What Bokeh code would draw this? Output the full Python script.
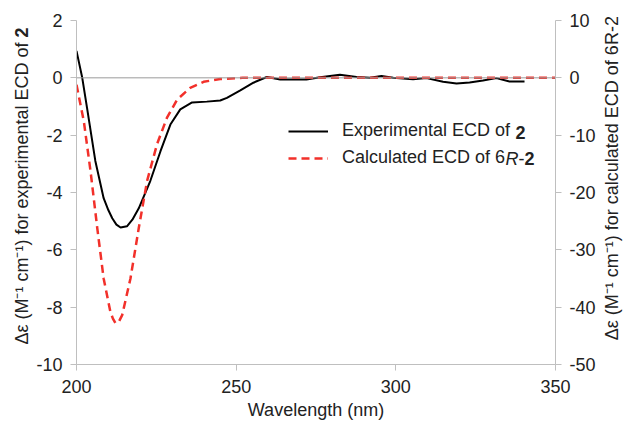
import math
from bokeh.plotting import figure
from bokeh.models import Range1d, LinearAxis, FixedTicker, Span, Legend, LegendItem, Label
from bokeh.embed import file_html
from bokeh.resources import INLINE

# Experimental ECD (left axis)
exp_wl = [200, 201.8, 203.3, 205.9, 208.5, 210.0, 211.2, 212.5, 213.8, 215.8, 217.5,
          219.5, 223.1, 226.3, 229.4, 232.5, 236.2, 240.8, 245, 247.1, 251.3, 255.4,
          259.6, 263.8, 272, 276.3, 282.5, 287.7, 291.9, 295.5, 299.2, 305.4, 309.6,
          314.8, 319, 323.1, 327.3, 331.5, 335.6, 340.3]
exp_de = [0.94, 0.0, -1.05, -2.9, -4.2, -4.62, -4.9, -5.12, -5.22, -5.18, -4.95,
          -4.55, -3.6, -2.56, -1.63, -1.1, -0.86, -0.83, -0.79, -0.7, -0.44, -0.17,
          0.03, -0.06, -0.06, 0.02, 0.11, 0.03, 0.0, 0.06, 0.0, -0.05, -0.01,
          -0.14, -0.2, -0.16, -0.09, -0.01, -0.13, -0.13]

# Calculated ECD (right axis)
calc_wl = [200, 202.3, 204.4, 206.5, 208.5, 210.6, 211.4, 212.2, 213.2, 214.3, 216.9,
           219.5, 222.1, 225.2, 228.3, 231.5, 235.6, 239.8, 245, 252, 300, 350]
calc_de = [-1.2, -7.6, -16.3, -26.2, -35, -40.8, -42.0, -42.8, -42.6, -41.4, -35,
           -26.2, -18, -11.6, -7, -3.8, -1.75, -0.7, -0.2, 0, 0, 0]

x_ticks = [200, 250, 300, 350]
left_ticks = [2, 0, -2, -4, -6, -8, -10]
right_ticks = [10, 0, -10, -20, -30, -40, -50]

x_title = "Wavelength (nm)"
left_title = [("Δε (M⁻¹ cm⁻¹) for experimental ECD of ", "normal"), ("2", "bold")]
right_title = "Δε (M⁻¹ cm⁻¹) for calculated ECD of 6R-2"
legend_exp = [("Experimental ECD of ", "normal"), ("2", "bold")]
legend_calc = [("Calculated ECD of 6", "normal"), ("R", "italic"), ("-", "normal"), ("2", "bold")]

FONT = "Liberation Sans"
FS = 18
TXT = "#222222"
AX = "#bfbfbf"

# frame geometry (px) and helpers to place annotations
FL, FT, FW, FH = 76, 20, 479, 344
X0, X1, Y0, Y1 = 200, 350, -10, 2
def dx(px): return X0 + (px - FL) / FW * (X1 - X0)
def dy(py): return Y1 - (py - FT) / FH * (Y1 - Y0)
# Arial/Liberation Sans advance widths (em) of text pieces that precede a styled part
W = {"Experimental ECD of ": 9.614, "Calculated ECD of 6": 9.059, "R": 0.722, "-": 0.333}

p = figure(width=623, height=425, output_backend="svg", toolbar_location=None,
           x_range=Range1d(X0, X1), y_range=Range1d(Y0, Y1),
           min_border_left=FL, min_border_right=623 - FL - FW, min_border_top=FT,
           min_border_bottom=425 - FT - FH)
p.extra_y_ranges = {"calc": Range1d(-50, 10)}
p.outline_line_color = None
p.xgrid.visible = False
p.ygrid.visible = False
p.background_fill_color = "white"

p.add_layout(Span(location=0, dimension="width", line_color="#9a9a9a", line_width=1))

r_exp = p.line(exp_wl, exp_de, line_color="black", line_width=2)
r_calc = p.line(calc_wl, calc_de, y_range_name="calc", line_color="#f2302a",
                line_width=2.5, line_dash="8 5")

raxis = LinearAxis(y_range_name="calc")
p.add_layout(raxis, "right")

def style(ax, ticks, standoff, lab_standoff):
    ax.ticker = FixedTicker(ticks=ticks)
    ax.major_label_overrides = {t: str(t) for t in ticks}
    ax.axis_line_color = AX
    ax.major_tick_line_color = AX
    ax.minor_tick_line_color = None
    ax.major_tick_out = 6
    ax.major_tick_in = 0
    ax.major_label_text_font = FONT
    ax.major_label_text_font_size = f"{FS}px"
    ax.major_label_text_color = TXT
    ax.major_label_standoff = standoff
    ax.axis_label_text_font = FONT
    ax.axis_label_text_font_size = f"{FS}px"
    ax.axis_label_text_font_style = "normal"
    ax.axis_label_text_color = TXT
    ax.axis_label_standoff = lab_standoff

style(p.xaxis[0], x_ticks, 9, 4)
p.xaxis[0].axis_label = x_title
style(p.yaxis[0], left_ticks, 8, 5)
style(raxis, right_ticks, 8, 3)

def lab(x, y, text, fstyle, align, xo=0, yo=0, angle=0.0):
    return Label(x=x, y=y, x_offset=xo, y_offset=yo, text=text, angle=angle,
                 text_align=align, text_baseline="middle", text_font=FONT,
                 text_font_size=f"{FS}px", text_font_style=fstyle, text_color=TXT)

# left title, reading bottom-to-top: plain part ends at the anchor, bold "2" starts there
anchor = dy(37)
p.add_layout(lab(X0, anchor, left_title[0][0], left_title[0][1], "right", xo=-55,
                 angle=math.pi / 2), "left")
p.add_layout(lab(X0, anchor, left_title[1][0], left_title[1][1], "left", xo=-55,
                 angle=math.pi / 2), "left")

# right title, reading bottom-to-top
p.add_layout(lab(X1, -3.5, right_title, "normal", "center", xo=56, angle=math.pi / 2), "right")

# legend: line samples + first part of each text via Legend, styled suffixes via Labels
LEG_X, LEG_Y, GW, GH, SP, STAND = 212, 196, 40, 20, 6, 14
legend = Legend(items=[LegendItem(label=legend_exp[0][0].rstrip(), renderers=[r_exp]),
                       LegendItem(label=legend_calc[0][0], renderers=[r_calc])],
                location=(LEG_X, LEG_Y), padding=0, margin=0, glyph_width=GW, glyph_height=GH,
                label_height=GH, spacing=SP, label_standoff=STAND,
                label_text_font=FONT, label_text_font_size=f"{FS}px", label_text_color=TXT,
                background_fill_alpha=0, border_line_alpha=0)
p.add_layout(legend, "center")

text_px = FL + LEG_X + GW + STAND
top_px = FT + FH - LEG_Y - (2 * GH + SP)
for row, parts in enumerate([legend_exp, legend_calc]):
    cy = top_px + GH / 2 + row * (GH + SP)
    px = text_px + W[parts[0][0]] * FS
    for text, fstyle in parts[1:]:
        p.add_layout(lab(dx(px), dy(cy), text, fstyle, "left"))
        px += W.get(text, 0.556) * FS

open("out.html", "w").write(file_html(p, INLINE))
